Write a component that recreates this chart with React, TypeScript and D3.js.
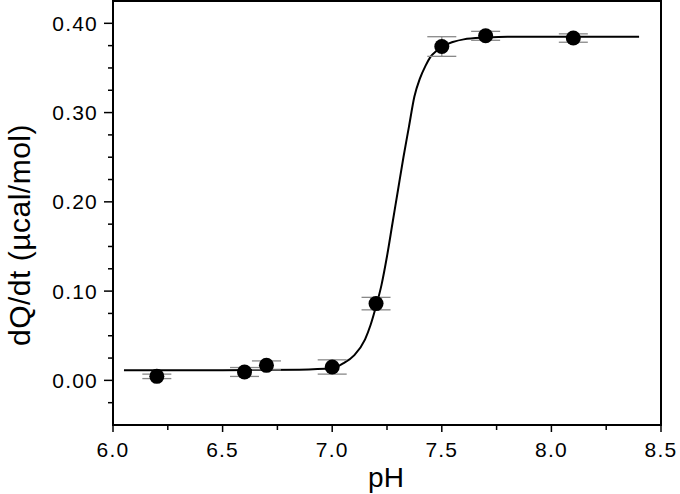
import React from "react";
import * as d3 from "d3";

const phValues = [6.2, 6.6, 6.7, 7.0, 7.2, 7.5, 7.7, 8.1];
const rateValues = [0.0045, 0.0094, 0.0168, 0.015, 0.086, 0.374, 0.386, 0.3835];
const rateErrors = [0.0025, 0.005, 0.005, 0.008, 0.007, 0.011, 0.005, 0.0047];

const fitPh = [6.05, 6.5, 6.85, 7.0, 7.05, 7.1, 7.15, 7.175, 7.2, 7.225, 7.25, 7.275, 7.3, 7.325, 7.35, 7.375, 7.4, 7.425, 7.45, 7.475, 7.5, 7.55, 7.6, 7.7, 7.8, 8.4];
const fitRate = [0.0112, 0.0114, 0.012, 0.0135, 0.019, 0.028, 0.046, 0.062, 0.083, 0.107, 0.139, 0.176, 0.213, 0.25, 0.284, 0.318, 0.338, 0.352, 0.363, 0.369, 0.374, 0.379, 0.382, 0.384, 0.385, 0.385];

const xMajor = [6.0, 6.5, 7.0, 7.5, 8.0, 8.5];
const xMinor = [6.25, 6.75, 7.25, 7.75, 8.25];
const yMajor = [0.0, 0.1, 0.2, 0.3, 0.4];
const yMinor = [-0.025, 0.025, 0.05, 0.075, 0.125, 0.15, 0.175, 0.225, 0.25, 0.275, 0.325, 0.35, 0.375];

const FONT = "'Liberation Sans', Arial, sans-serif";

export default function App() {
  const left = 113, right = 661, top = 1, bottom = 425;
  const x = d3.scaleLinear().domain([6.0, 8.5]).range([left, right]);
  const y = d3.scaleLinear().domain([-0.05, 0.425]).range([bottom, top]);

  const line = d3
    .line<number>()
    .x((_, i) => x(fitPh[i]))
    .y((d) => y(d))
    .curve(d3.curveMonotoneX);

  const capHalf = 14.5;

  return (
    <svg
      width={680}
      height={494}
      style={{ position: "absolute", left: 0, top: 0, background: "#fff" }}
      fontFamily={FONT}
    >
      <rect x={0} y={0} width={680} height={494} fill="#fff" />
      {/* frame */}
      <rect x={left} y={top} width={right - left} height={bottom - top} fill="none" stroke="#000" strokeWidth={2} />

      {/* y ticks */}
      {yMajor.map((v) => (
        <g key={"ym" + v}>
          <line x1={left - 9} x2={left} y1={y(v)} y2={y(v)} stroke="#000" strokeWidth={1.5} />
          <text x={98} y={y(v) + 7.5} textAnchor="end" fontSize={21} letterSpacing={1.2} fill="#000">
            {d3.format(".2f")(v)}
          </text>
        </g>
      ))}
      {yMinor.map((v) => (
        <line key={"yn" + v} x1={left - 5} x2={left} y1={y(v)} y2={y(v)} stroke="#000" strokeWidth={1.5} />
      ))}

      {/* x ticks */}
      {xMajor.map((v) => (
        <g key={"xm" + v}>
          <line x1={x(v)} x2={x(v)} y1={bottom} y2={bottom + 7} stroke="#000" strokeWidth={1.5} />
          <text x={x(v)} y={457} textAnchor="middle" fontSize={21} letterSpacing={1.2} fill="#000">
            {d3.format(".1f")(v)}
          </text>
        </g>
      ))}
      {xMinor.map((v) => (
        <line key={"xn" + v} x1={x(v)} x2={x(v)} y1={bottom} y2={bottom + 5} stroke="#000" strokeWidth={1.5} />
      ))}

      {/* axis labels */}
      <text x={386} y={487} textAnchor="middle" fontSize={28} fill="#000">
        pH
      </text>
      <text
        transform={`translate(30,235) rotate(-90)`}
        textAnchor="middle"
        fontSize={30}
        letterSpacing={0.5}
        fill="#000"
      >
        dQ/dt (µcal/mol)
      </text>

      {/* fit curve */}
      <path d={line(fitRate) || ""} fill="none" stroke="#000" strokeWidth={2} />

      {/* error bars */}
      {phValues.map((p, i) => (
        <g key={"e" + i} stroke="#888" strokeWidth={1.3}>
          <line x1={x(p)} x2={x(p)} y1={y(rateValues[i] - rateErrors[i])} y2={y(rateValues[i] + rateErrors[i])} />
          <line x1={x(p) - capHalf} x2={x(p) + capHalf} y1={y(rateValues[i] + rateErrors[i])} y2={y(rateValues[i] + rateErrors[i])} />
          <line x1={x(p) - capHalf} x2={x(p) + capHalf} y1={y(rateValues[i] - rateErrors[i])} y2={y(rateValues[i] - rateErrors[i])} />
        </g>
      ))}

      {/* points */}
      {phValues.map((p, i) => (
        <circle key={"p" + i} cx={x(p)} cy={y(rateValues[i])} r={7.5} fill="#000" />
      ))}
    </svg>
  );
}
